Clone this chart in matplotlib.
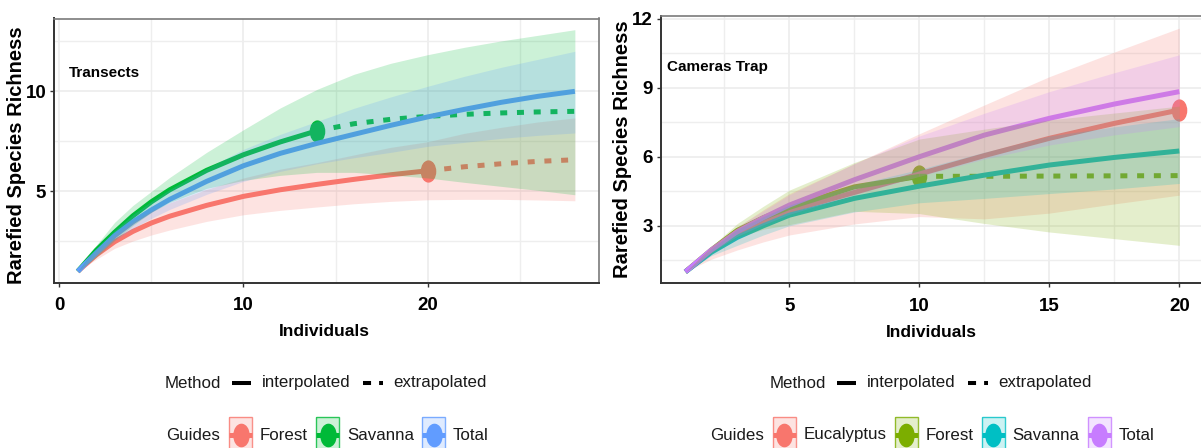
import numpy as np
import matplotlib
matplotlib.use("Agg")
import matplotlib.pyplot as plt
import matplotlib.font_manager as fm
from matplotlib.path import Path
from matplotlib.transforms import Affine2D
from matplotlib.patches import Rectangle
from matplotlib.ticker import MultipleLocator

# ---------------- data: Transects (left panel) ----------------
t_x = [1, 2, 3, 4, 5, 6, 8, 10, 12, 14, 16, 18, 20, 22, 24, 26, 28]
t_groups = ["Forest", "Savanna", "Total"]
t_obs_n = [20, 14, 40]          # observed sample size (end of interpolation)
t_forest_mean = [1.0, 1.82, 2.48, 3.0, 3.42, 3.76, 4.3, 4.75, 5.08, 5.35, 5.6, 5.83, 6.03, 6.23, 6.38, 6.5, 6.58]
t_forest_lo = [1.0, 1.6, 2.15, 2.52, 2.82, 3.07, 3.5, 3.83, 4.05, 4.22, 4.38, 4.5, 4.58, 4.6, 4.6, 4.57, 4.53]
t_forest_hi = [1.0, 2.0, 2.85, 3.48, 4.02, 4.43, 5.1, 5.67, 6.11, 6.44, 6.82, 7.2, 7.48, 7.9, 8.2, 8.47, 8.67]
t_sav_mean = [1.0, 2.05, 2.95, 3.78, 4.48, 5.08, 6.05, 6.83, 7.47, 8.03, 8.38, 8.6, 8.75, 8.85, 8.92, 8.97, 9.0]
t_sav_lo = [1.0, 1.7, 2.55, 3.3, 3.95, 4.45, 5.15, 5.55, 5.8, 5.95, 5.95, 5.82, 5.67, 5.45, 5.25, 5.05, 4.83]
t_sav_hi = [1.0, 2.3, 3.45, 4.3, 5.0, 5.7, 6.95, 8.08, 9.17, 10.1, 10.85, 11.4, 11.83, 12.2, 12.52, 12.8, 13.08]
t_tot_mean = [1.0, 1.92, 2.78, 3.48, 4.07, 4.6, 5.5, 6.28, 6.9, 7.4, 7.85, 8.3, 8.72, 9.1, 9.45, 9.75, 10.0]
t_tot_lo = [1.0, 1.75, 2.55, 3.15, 3.65, 4.1, 4.85, 5.5, 6.0, 6.38, 6.68, 6.95, 7.25, 7.45, 7.65, 7.8, 7.92]
t_tot_hi = [1.0, 2.1, 3.05, 3.85, 4.5, 5.1, 6.15, 7.1, 7.85, 8.5, 9.15, 9.72, 10.25, 10.75, 11.2, 11.6, 12.0]

# ---------------- data: Cameras Trap (right panel) ----------------
c_x = [1, 2, 3, 4, 5, 7.5, 10, 12.5, 15, 17.5, 20]
c_groups = ["Eucalyptus", "Forest", "Savanna", "Total"]
c_obs_n = [20, 10, 30, 30]
c_euc_mean = [1.0, 1.9, 2.65, 3.2, 3.65, 4.45, 5.25, 6.05, 6.8, 7.45, 8.03]
c_euc_lo = [1.0, 1.55, 1.95, 2.3, 2.6, 3.08, 3.4, 3.3, 3.55, 3.95, 4.33]
c_euc_hi = [1.0, 2.1, 2.95, 3.7, 4.4, 5.7, 7.0, 8.25, 9.48, 10.55, 11.59]
c_for_mean = [1.0, 1.95, 2.8, 3.35, 3.8, 4.69, 5.15, 5.15, 5.16, 5.17, 5.18]
c_for_lo = [1.0, 1.8, 2.5, 2.85, 3.05, 3.63, 3.53, 3.1, 2.73, 2.44, 2.15]
c_for_hi = [1.0, 2.1, 3.1, 3.85, 4.55, 5.75, 6.77, 7.2, 7.6, 7.9, 8.2]
c_sav_mean = [1.0, 1.85, 2.5, 3.0, 3.46, 4.19, 4.72, 5.2, 5.64, 5.97, 6.25]
c_sav_lo = [1.0, 1.7, 2.15, 2.6, 3.0, 3.6, 4.0, 4.19, 4.4, 4.6, 4.84]
c_sav_hi = [1.0, 2.0, 2.85, 3.4, 3.9, 4.78, 5.45, 6.2, 6.9, 7.3, 7.66]
c_tot_mean = [1.0, 1.95, 2.75, 3.35, 3.9, 5.0, 6.0, 6.94, 7.67, 8.29, 8.83]
c_tot_lo = [1.0, 1.85, 2.55, 3.05, 3.5, 4.35, 5.15, 5.9, 6.51, 6.95, 7.31]
c_tot_hi = [1.0, 2.05, 2.95, 3.65, 4.35, 5.7, 6.9, 7.89, 8.83, 9.65, 10.43]

# ---------------- styling ----------------
COL3 = ["#F8766D", "#00BA38", "#619CFF"]
COL4 = ["#F8766D", "#7CAE00", "#00BFC4", "#C77CFF"]
W, H = 1201, 448
LW = 3.6
DASH = (0, (1.4, 1.95))

avail = {f.name for f in fm.fontManager.ttflist}
def pick(*names):
    return [n for n in names if n in avail] + ["DejaVu Sans"]
NARROW = pick("Liberation Sans Narrow", "Liberation Sans")
WIDE = pick("Liberation Sans")

circ = Path.unit_circle()
ELL = Path(Affine2D().scale(0.68, 1.0).transform(circ.vertices), circ.codes)

fig = plt.figure(figsize=(W / 100, H / 100), dpi=100)
fig.patch.set_facecolor("white")

axL = fig.add_axes([53.8 / W, (H - 283.0) / H, 545.0 / W, (283.0 - 18.5) / H])
axR = fig.add_axes([660.7 / W, (H - 283.3) / H, 543.3 / W, (283.3 - 15.7) / H])


def style(ax, xlim, ylim, xmaj, xmin, ymaj, ymin):
    ax.set_xlim(*xlim)
    ax.set_ylim(*ylim)
    ax.xaxis.set_major_locator(MultipleLocator(xmaj))
    ax.xaxis.set_minor_locator(MultipleLocator(xmin))
    ax.yaxis.set_major_locator(MultipleLocator(ymaj))
    ax.yaxis.set_minor_locator(MultipleLocator(ymin))
    ax.grid(True, which="major", color="#EBEBEB", lw=1.1, zorder=0)
    ax.grid(True, which="minor", color="#EEEEEE", lw=1.0, zorder=0)
    ax.set_axisbelow(True)
    for s in ["top", "right"]:
        ax.spines[s].set_color("#7A7A7A")
        ax.spines[s].set_linewidth(1.2)
    for s in ["left", "bottom"]:
        ax.spines[s].set_color("#333333")
        ax.spines[s].set_linewidth(1.4)
    ax.tick_params(which="major", length=2.9, width=1.0, color="#333333")
    ax.tick_params(which="minor", length=0)
    ax.tick_params(axis="x", which="major", pad=7.5)
    ax.tick_params(axis="y", which="major", pad=2.6)
    for lab in ax.get_xticklabels() + ax.get_yticklabels():
        lab.set_family(NARROW)
        lab.set_fontweight("bold")
        lab.set_fontsize(13.5)
        lab.set_color("black")


def draw_series(ax, x, mean, lo, hi, n, color):
    x = np.asarray(x, float)
    mean = np.asarray(mean, float)
    ip = x <= n
    ex = x >= n
    ax.plot(x[ip], mean[ip], color=color, lw=LW, solid_capstyle="butt",
            solid_joinstyle="round", zorder=3)
    if ex.sum() > 1:
        ax.plot(x[ex], mean[ex], color=color, lw=LW, ls=DASH,
                dash_capstyle="butt", zorder=3)
    if n <= x.max():
        ax.plot([n], [mean[x == n][0]], ls="none", marker=ELL, ms=15,
                color=color, mec=color, zorder=2.5)
    ax.fill_between(x, lo, hi, color=color, alpha=0.2, lw=0, zorder=4)


# left panel
t_means = [t_forest_mean, t_sav_mean, t_tot_mean]
t_los = [t_forest_lo, t_sav_lo, t_tot_lo]
t_his = [t_forest_hi, t_sav_hi, t_tot_hi]
for m, lo, hi, n, c in zip(t_means, t_los, t_his, t_obs_n, COL3):
    draw_series(axL, t_x, m, lo, hi, n, c)
style(axL, (-0.3, 29.3), (0.42, 13.64), 10, 5, 5, 2.5)

# right panel
c_means = [c_euc_mean, c_for_mean, c_sav_mean, c_tot_mean]
c_los = [c_euc_lo, c_for_lo, c_sav_lo, c_tot_lo]
c_his = [c_euc_hi, c_for_hi, c_sav_hi, c_tot_hi]
for m, lo, hi, n, c in zip(c_means, c_los, c_his, c_obs_n, COL4):
    draw_series(axR, c_x, m, lo, hi, n, c)
style(axR, (0.05, 20.95), (0.5, 12.13), 5, 2.5, 3, 1.5)

for ax, ttl, tx, ty, lx, ly in [(axL, "Transects", 0.027, 0.793, -0.0687, 0.485),
                                (axR, "Cameras Trap", 0.011, 0.809, -0.07, 0.5)]:
    ax.text(tx, ty, ttl, transform=ax.transAxes, ha="left", va="center",
            fontsize=11, fontweight="bold", family=NARROW, zorder=6)
    ax.set_ylabel("Rarefied Species Richness", fontsize=14.5, fontweight="bold",
                  family=WIDE)
    ax.yaxis.set_label_coords(lx, ly)
    ax.yaxis.label.set_verticalalignment("center")
    ax.set_xlabel("Individuals", fontsize=12.5, fontweight="bold", family=NARROW)
    ax.xaxis.label.set_verticalalignment("center")
axL.xaxis.set_label_coords(0.496, -0.184)
axR.xaxis.set_label_coords(0.498, -0.185)

# ---------------- legends (overlay in pixel coordinates) ----------------
lg = fig.add_axes([0, 0, 1, 1])
lg.set_xlim(0, W)
lg.set_ylim(H, 0)
lg.axis("off")
lg.patch.set_alpha(0)
renderer = fig.canvas.get_renderer()
LFS = 12.2


def legend_row(items, cx, cy):
    # items: ("t", text) | ("solid",) | ("dash",) | ("box", color) | ("gap", px)
    placed = []
    total = 0.0
    for it in items:
        if it[0] == "t":
            t = lg.text(0, cy, it[1], ha="left", va="center", fontsize=LFS,
                        family=NARROW, color="#1a1a1a")
            w = t.get_window_extent(renderer).width
            placed.append((it, w, t))
        elif it[0] == "gap":
            w = it[1]
            placed.append((it, w, None))
        elif it[0] in ("solid", "dash"):
            w = 19 if it[0] == "solid" else 20
            placed.append((it, w, None))
        else:
            w = 23
            placed.append((it, w, None))
        total += w
    x = cx - total / 2
    for it, w, t in placed:
        if it[0] == "t":
            t.set_x(x)
        elif it[0] == "solid":
            lg.plot([x, x + w], [cy, cy], color="black", lw=2.9,
                    solid_capstyle="butt")
        elif it[0] == "dash":
            lg.plot([x, x + w], [cy, cy], color="black", lw=2.9,
                    ls=(0, (2.0, 2.0)), dash_capstyle="butt")
        elif it[0] == "box":
            c = it[1]
            lg.add_patch(Rectangle((x, cy - 18), w, 36, facecolor=c, alpha=0.2,
                                   edgecolor="none", clip_on=False))
            lg.add_patch(Rectangle((x, cy - 18), w, 36, facecolor="none",
                                   edgecolor=c, lw=1.0, alpha=0.8, clip_on=False))
            lg.plot([x, x + w], [cy, cy], color=c, lw=LW, solid_capstyle="butt")
            lg.plot([x + w / 2], [cy], ls="none", marker=ELL, ms=16, color=c)
        x += w


def method_items():
    return [("t", "Method"), ("gap", 11), ("solid",), ("gap", 11),
            ("t", "interpolated"), ("gap", 12), ("dash",), ("gap", 10),
            ("t", "extrapolated")]


def guide_items(groups, cols):
    out = [("t", "Guides"), ("gap", 9)]
    for i, (g, c) in enumerate(zip(groups, cols)):
        out += [("box", c), ("gap", 8), ("t", g)]
        if i < len(groups) - 1:
            out.append(("gap", 8))
    return out


legend_row(method_items(), 325.5, 383)
legend_row(guide_items(t_groups, COL3), 327.5, 435)
legend_row(method_items(), 930.5, 383)
legend_row(guide_items(c_groups, COL4), 932, 435)

fig.savefig("out.png", dpi=100, facecolor="white")
